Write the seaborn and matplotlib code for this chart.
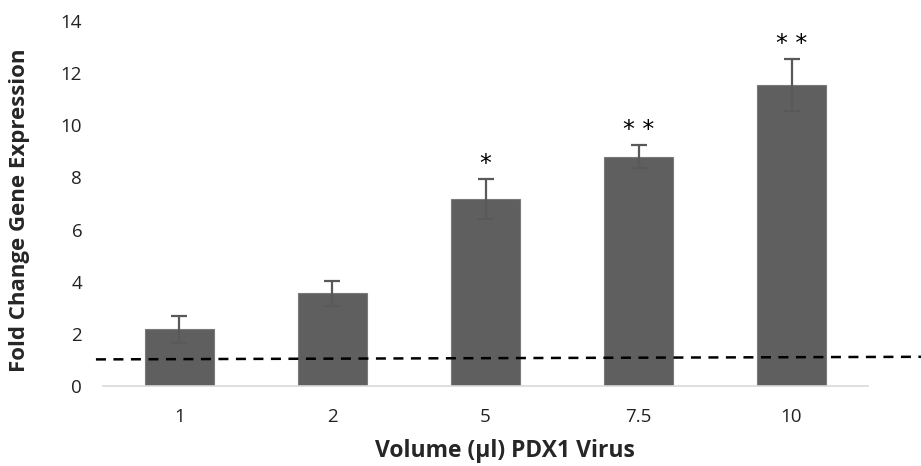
import matplotlib
matplotlib.use("Agg")
import matplotlib.pyplot as plt
import seaborn as sns
import pandas as pd

volumes = ["1", "2", "5", "7.5", "10"]
fold_change = [2.17, 3.56, 7.17, 8.80, 11.55]
sem = [0.52, 0.48, 0.77, 0.45, 1.0]
significance = ["", "", "*", "* *", "* *"]
baseline_ends = [1.02, 1.12]

sns.set_theme(style="white")
plt.rcParams["font.family"] = ["Open Sans", "DejaVu Sans"]

df = pd.DataFrame({"Volume": volumes, "Fold": fold_change})

fig = plt.figure(figsize=(9.21, 4.66), dpi=100)
ax = fig.add_axes([0.1118, 0.1717, 0.8307, 0.7833])

sns.barplot(data=df, x="Volume", y="Fold", color="#5f5f5f", saturation=1,
            width=0.45, edgecolor="#7a7a7a", linewidth=0.8, ax=ax, errorbar=None)

pos = list(range(len(volumes)))
ax.errorbar(pos, fold_change, yerr=sem, fmt="none", ecolor="#595959",
            elinewidth=1.6, capsize=5.5, capthick=1.6, zorder=3)

for x, v, e, s in zip(pos, fold_change, sem, significance):
    if s:
        ax.text(x, v + e + 0.58, s, ha="center", va="center", fontsize=17,
                color="black", family="DejaVu Sans")

# reference line at unit fold change, extending across the figure width
ax.plot([-0.546, 4.846], baseline_ends, linestyle=(0, (4, 3)), color="black",
        linewidth=1.8, clip_on=False, zorder=4)

ax.set_xlim(-0.5, 4.5)
ax.set_ylim(0, 14)
ax.set_yticks(range(0, 15, 2))
ax.set_xlabel("Volume (µl) PDX1 Virus", fontsize=16.5, fontweight="bold")
ax.set_ylabel("Fold Change Gene Expression", fontsize=16, fontweight="bold")
ax.xaxis.set_label_coords(0.525, -0.145)
ax.yaxis.set_label_coords(-0.0954, 0.481)
ax.tick_params(axis="y", length=0, pad=15, labelsize=13.5, colors="#222222")
ax.tick_params(axis="x", length=0, pad=16, labelsize=13.5, colors="#222222")

for side in ["top", "right", "left"]:
    ax.spines[side].set_visible(False)
ax.spines["bottom"].set_color("#d9d9d9")
ax.spines["bottom"].set_linewidth(1.2)

fig.savefig("out.png", dpi=100)
